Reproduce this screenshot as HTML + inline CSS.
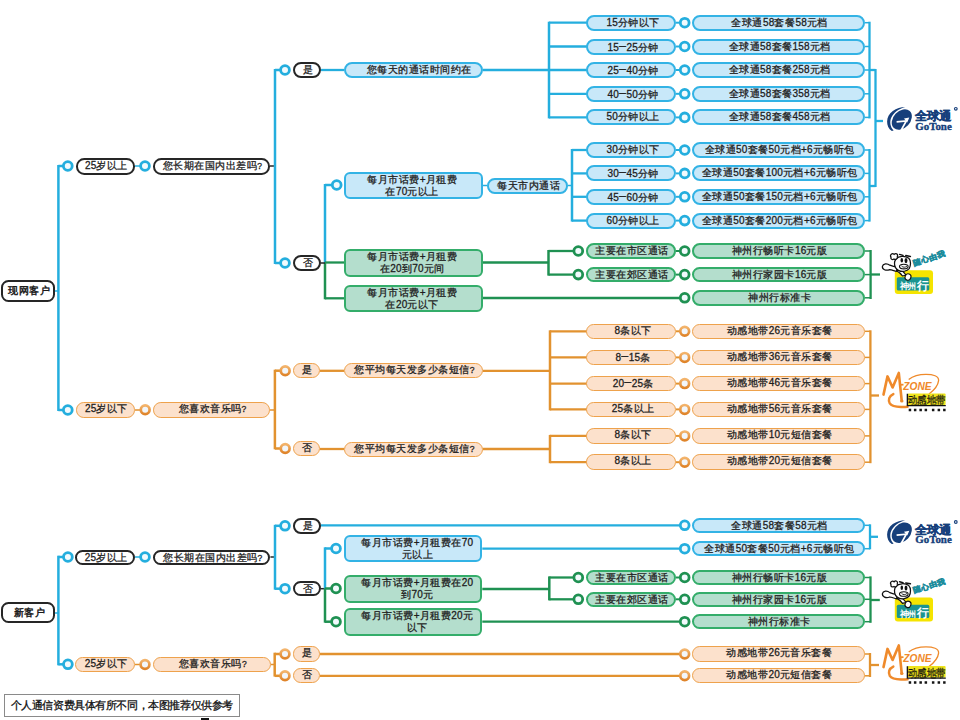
<!DOCTYPE html>
<html><head><meta charset="utf-8"><style>
html,body{margin:0;padding:0;background:#fff;}
body{width:960px;height:720px;position:relative;overflow:hidden;font-family:"Liberation Sans",sans-serif;color:#1a1a1a;}
.b{position:absolute;box-sizing:border-box;border:2px solid;text-align:center;white-space:nowrap;overflow:hidden;letter-spacing:0.5px;-webkit-text-stroke:0.28px #222;}
.d{font-size:10px;letter-spacing:0.2px;}
.q{font-size:8.5px;}
.dash{font-weight:normal;font-size:12.5px;position:relative;top:-1px;}
.disc{position:absolute;left:4px;top:693.5px;width:235.5px;height:23px;box-sizing:border-box;border:1px solid #8a8a8a;font-size:11px;letter-spacing:-0.42px;-webkit-text-stroke:0.3px #111;color:#111;line-height:21px;text-align:center;white-space:nowrap;background:#fff;}
svg{position:absolute;left:0;top:0;}
</style></head><body>
<svg width="960" height="720" viewBox="0 0 960 720">
<defs><linearGradient id="og" x1="0" y1="0" x2="0" y2="1"><stop offset="0" stop-color="#f3b46c"/><stop offset="1" stop-color="#df842a"/></linearGradient></defs>
<line x1="55" y1="291" x2="58.4" y2="291" stroke="#24aede" stroke-width="1.5"/><line x1="58.4" y1="165" x2="58.4" y2="411" stroke="#24aede" stroke-width="2.5"/><line x1="58.4" y1="166" x2="64" y2="166" stroke="#24aede" stroke-width="2.5"/><circle cx="67.8" cy="166" r="4.4" fill="#f2fafd" stroke="#24aede" stroke-width="2.8"/><line x1="58.4" y1="410" x2="64" y2="410" stroke="#24aede" stroke-width="2.5"/><circle cx="67.8" cy="410" r="4.4" fill="#f2fafd" stroke="#24aede" stroke-width="2.8"/><line x1="135" y1="166" x2="141" y2="166" stroke="#24aede" stroke-width="1.5"/><circle cx="145" cy="166" r="4.4" fill="#f2fafd" stroke="#24aede" stroke-width="2.8"/><line x1="270" y1="166" x2="275" y2="166" stroke="#262626" stroke-width="1.5"/><line x1="275" y1="69" x2="275" y2="264" stroke="#24aede" stroke-width="2.5"/><line x1="275" y1="70" x2="281" y2="70" stroke="#24aede" stroke-width="2.5"/><circle cx="285" cy="70" r="4.4" fill="#f2fafd" stroke="#24aede" stroke-width="2.8"/><line x1="275" y1="263" x2="281" y2="263" stroke="#24aede" stroke-width="2.5"/><circle cx="285" cy="263" r="4.4" fill="#f2fafd" stroke="#24aede" stroke-width="2.8"/><line x1="321" y1="70" x2="344" y2="70" stroke="#24aede" stroke-width="2.3"/><line x1="483" y1="70" x2="549" y2="70" stroke="#24aede" stroke-width="2.3"/><line x1="549" y1="21.7" x2="549" y2="118.4" stroke="#24aede" stroke-width="2.5"/><line x1="549" y1="22.7" x2="587" y2="22.7" stroke="#24aede" stroke-width="2.3"/><line x1="676" y1="22.7" x2="681" y2="22.7" stroke="#24aede" stroke-width="2"/><circle cx="684.7" cy="22.7" r="4.4" fill="#f2fafd" stroke="#24aede" stroke-width="2.8"/><line x1="865" y1="22.7" x2="869.5" y2="22.7" stroke="#24aede" stroke-width="1.5"/><line x1="549" y1="46.5" x2="587" y2="46.5" stroke="#24aede" stroke-width="2.3"/><line x1="676" y1="46.5" x2="681" y2="46.5" stroke="#24aede" stroke-width="2"/><circle cx="684.7" cy="46.5" r="4.4" fill="#f2fafd" stroke="#24aede" stroke-width="2.8"/><line x1="865" y1="46.5" x2="869.5" y2="46.5" stroke="#24aede" stroke-width="1.5"/><line x1="549" y1="70" x2="587" y2="70" stroke="#24aede" stroke-width="2.3"/><line x1="676" y1="70" x2="681" y2="70" stroke="#24aede" stroke-width="2"/><circle cx="684.7" cy="70" r="4.4" fill="#f2fafd" stroke="#24aede" stroke-width="2.8"/><line x1="865" y1="70" x2="869.5" y2="70" stroke="#24aede" stroke-width="1.5"/><line x1="549" y1="93.8" x2="587" y2="93.8" stroke="#24aede" stroke-width="2.3"/><line x1="676" y1="93.8" x2="681" y2="93.8" stroke="#24aede" stroke-width="2"/><circle cx="684.7" cy="93.8" r="4.4" fill="#f2fafd" stroke="#24aede" stroke-width="2.8"/><line x1="865" y1="93.8" x2="869.5" y2="93.8" stroke="#24aede" stroke-width="1.5"/><line x1="549" y1="117.4" x2="587" y2="117.4" stroke="#24aede" stroke-width="2.3"/><line x1="676" y1="117.4" x2="681" y2="117.4" stroke="#24aede" stroke-width="2"/><circle cx="684.7" cy="117.4" r="4.4" fill="#f2fafd" stroke="#24aede" stroke-width="2.8"/><line x1="865" y1="117.4" x2="869.5" y2="117.4" stroke="#24aede" stroke-width="1.5"/><line x1="869.5" y1="21.7" x2="869.5" y2="118.4" stroke="#24aede" stroke-width="2.3"/><line x1="869.5" y1="70" x2="875.5" y2="70" stroke="#24aede" stroke-width="2.3"/><line x1="875.5" y1="69" x2="875.5" y2="187" stroke="#24aede" stroke-width="2.3"/><line x1="875.5" y1="121" x2="883" y2="121" stroke="#24aede" stroke-width="2.3"/><line x1="325" y1="184" x2="325" y2="263" stroke="#24aede" stroke-width="2.5"/><line x1="325" y1="263" x2="325" y2="299.3" stroke="#1f9152" stroke-width="2.5"/><line x1="321" y1="263" x2="325" y2="263" stroke="#262626" stroke-width="1.5"/><line x1="325" y1="185" x2="333" y2="185" stroke="#24aede" stroke-width="2.5"/><circle cx="336.7" cy="185" r="4.4" fill="#f2fafd" stroke="#24aede" stroke-width="2.8"/><line x1="483" y1="185.5" x2="487" y2="185.5" stroke="#24aede" stroke-width="1.5"/><line x1="568" y1="185.5" x2="572" y2="185.5" stroke="#24aede" stroke-width="1.5"/><line x1="572" y1="149" x2="572" y2="221.6" stroke="#24aede" stroke-width="2.5"/><line x1="572" y1="150" x2="587" y2="150" stroke="#24aede" stroke-width="2.3"/><line x1="676" y1="150" x2="681" y2="150" stroke="#24aede" stroke-width="2"/><circle cx="684.7" cy="150" r="4.4" fill="#f2fafd" stroke="#24aede" stroke-width="2.8"/><line x1="865" y1="150" x2="869.5" y2="150" stroke="#24aede" stroke-width="1.5"/><line x1="572" y1="173.4" x2="587" y2="173.4" stroke="#24aede" stroke-width="2.3"/><line x1="676" y1="173.4" x2="681" y2="173.4" stroke="#24aede" stroke-width="2"/><circle cx="684.7" cy="173.4" r="4.4" fill="#f2fafd" stroke="#24aede" stroke-width="2.8"/><line x1="865" y1="173.4" x2="869.5" y2="173.4" stroke="#24aede" stroke-width="1.5"/><line x1="572" y1="196.8" x2="587" y2="196.8" stroke="#24aede" stroke-width="2.3"/><line x1="676" y1="196.8" x2="681" y2="196.8" stroke="#24aede" stroke-width="2"/><circle cx="684.7" cy="196.8" r="4.4" fill="#f2fafd" stroke="#24aede" stroke-width="2.8"/><line x1="865" y1="196.8" x2="869.5" y2="196.8" stroke="#24aede" stroke-width="1.5"/><line x1="572" y1="220.6" x2="587" y2="220.6" stroke="#24aede" stroke-width="2.3"/><line x1="676" y1="220.6" x2="681" y2="220.6" stroke="#24aede" stroke-width="2"/><circle cx="684.7" cy="220.6" r="4.4" fill="#f2fafd" stroke="#24aede" stroke-width="2.8"/><line x1="865" y1="220.6" x2="869.5" y2="220.6" stroke="#24aede" stroke-width="1.5"/><line x1="869.5" y1="149" x2="869.5" y2="221.6" stroke="#24aede" stroke-width="2.3"/><line x1="869.5" y1="186" x2="875.5" y2="186" stroke="#24aede" stroke-width="2.3"/><line x1="325" y1="262.5" x2="344" y2="262.5" stroke="#1f9152" stroke-width="2.3"/><line x1="483" y1="262.5" x2="548.5" y2="262.5" stroke="#1f9152" stroke-width="2.3"/><line x1="548.5" y1="250" x2="548.5" y2="275.6" stroke="#1f9152" stroke-width="2.5"/><line x1="548.5" y1="251" x2="575" y2="251" stroke="#1f9152" stroke-width="2.3"/><circle cx="578.3" cy="251" r="4.4" fill="#f2fafd" stroke="#1f9152" stroke-width="2.8"/><line x1="676" y1="251" x2="681" y2="251" stroke="#1f9152" stroke-width="2"/><circle cx="684.7" cy="251" r="4.4" fill="#f2fafd" stroke="#1f9152" stroke-width="2.8"/><line x1="865" y1="251" x2="870.6" y2="251" stroke="#1f9152" stroke-width="1.5"/><line x1="548.5" y1="274.6" x2="575" y2="274.6" stroke="#1f9152" stroke-width="2.3"/><circle cx="578.3" cy="274.6" r="4.4" fill="#f2fafd" stroke="#1f9152" stroke-width="2.8"/><line x1="676" y1="274.6" x2="681" y2="274.6" stroke="#1f9152" stroke-width="2"/><circle cx="684.7" cy="274.6" r="4.4" fill="#f2fafd" stroke="#1f9152" stroke-width="2.8"/><line x1="865" y1="274.6" x2="870.6" y2="274.6" stroke="#1f9152" stroke-width="1.5"/><line x1="325" y1="298.3" x2="344" y2="298.3" stroke="#1f9152" stroke-width="2.3"/><line x1="483" y1="298" x2="681" y2="298" stroke="#1f9152" stroke-width="2.3"/><circle cx="684.7" cy="297.8" r="4.4" fill="#f2fafd" stroke="#1f9152" stroke-width="2.8"/><line x1="865" y1="297.8" x2="870.6" y2="297.8" stroke="#1f9152" stroke-width="1.5"/><line x1="870.6" y1="250" x2="870.6" y2="299" stroke="#1f9152" stroke-width="2.3"/><line x1="870.6" y1="274.5" x2="880" y2="274.5" stroke="#1f9152" stroke-width="2.3"/><line x1="135" y1="410" x2="140" y2="410" stroke="#e2922f" stroke-width="1.5"/><circle cx="145.2" cy="409.8" r="4.4" fill="#f2f6fa" stroke="url(#og)" stroke-width="2.7"/><line x1="270" y1="410" x2="274.9" y2="410" stroke="#e2922f" stroke-width="1.5"/><line x1="274.9" y1="369.7" x2="274.9" y2="449.3" stroke="#e2922f" stroke-width="2.5"/><line x1="274.9" y1="370.7" x2="281" y2="370.7" stroke="#e2922f" stroke-width="2.5"/><circle cx="285.2" cy="370.7" r="4.4" fill="#f2f6fa" stroke="url(#og)" stroke-width="2.7"/><line x1="274.9" y1="448.5" x2="281" y2="448.5" stroke="#e2922f" stroke-width="2.5"/><circle cx="285.2" cy="448.5" r="4.4" fill="#f2f6fa" stroke="url(#og)" stroke-width="2.7"/><line x1="320" y1="370.8" x2="344" y2="370.8" stroke="#e2922f" stroke-width="2.3"/><line x1="320" y1="449" x2="344" y2="449" stroke="#e2922f" stroke-width="2.3"/><line x1="483" y1="370.8" x2="550" y2="370.8" stroke="#e2922f" stroke-width="2.3"/><line x1="483" y1="449" x2="550" y2="449" stroke="#e2922f" stroke-width="2.3"/><line x1="550" y1="330.3" x2="550" y2="410.4" stroke="#e2922f" stroke-width="2.5"/><line x1="550" y1="434.9" x2="550" y2="463.2" stroke="#e2922f" stroke-width="2.5"/><line x1="550" y1="331.3" x2="587" y2="331.3" stroke="#e2922f" stroke-width="2.3"/><line x1="676" y1="331.3" x2="680" y2="331.3" stroke="#e2922f" stroke-width="2"/><circle cx="684.7" cy="331.3" r="4.4" fill="#f2f6fa" stroke="url(#og)" stroke-width="2.7"/><line x1="865" y1="331.3" x2="870.4" y2="331.3" stroke="#e2922f" stroke-width="1.5"/><line x1="550" y1="357.4" x2="587" y2="357.4" stroke="#e2922f" stroke-width="2.3"/><line x1="676" y1="357.4" x2="680" y2="357.4" stroke="#e2922f" stroke-width="2"/><circle cx="684.7" cy="357.4" r="4.4" fill="#f2f6fa" stroke="url(#og)" stroke-width="2.7"/><line x1="865" y1="357.4" x2="870.4" y2="357.4" stroke="#e2922f" stroke-width="1.5"/><line x1="550" y1="383.6" x2="587" y2="383.6" stroke="#e2922f" stroke-width="2.3"/><line x1="676" y1="383.6" x2="680" y2="383.6" stroke="#e2922f" stroke-width="2"/><circle cx="684.7" cy="383.6" r="4.4" fill="#f2f6fa" stroke="url(#og)" stroke-width="2.7"/><line x1="865" y1="383.6" x2="870.4" y2="383.6" stroke="#e2922f" stroke-width="1.5"/><line x1="550" y1="409.4" x2="587" y2="409.4" stroke="#e2922f" stroke-width="2.3"/><line x1="676" y1="409.4" x2="680" y2="409.4" stroke="#e2922f" stroke-width="2"/><circle cx="684.7" cy="409.4" r="4.4" fill="#f2f6fa" stroke="url(#og)" stroke-width="2.7"/><line x1="865" y1="409.4" x2="870.4" y2="409.4" stroke="#e2922f" stroke-width="1.5"/><line x1="550" y1="435.9" x2="587" y2="435.9" stroke="#e2922f" stroke-width="2.3"/><line x1="676" y1="435.9" x2="680" y2="435.9" stroke="#e2922f" stroke-width="2"/><circle cx="684.7" cy="435.9" r="4.4" fill="#f2f6fa" stroke="url(#og)" stroke-width="2.7"/><line x1="865" y1="435.9" x2="870.4" y2="435.9" stroke="#e2922f" stroke-width="1.5"/><line x1="550" y1="462.2" x2="587" y2="462.2" stroke="#e2922f" stroke-width="2.3"/><line x1="676" y1="462.2" x2="680" y2="462.2" stroke="#e2922f" stroke-width="2"/><circle cx="684.7" cy="462.2" r="4.4" fill="#f2f6fa" stroke="url(#og)" stroke-width="2.7"/><line x1="865" y1="462.2" x2="870.4" y2="462.2" stroke="#e2922f" stroke-width="1.5"/><line x1="870.4" y1="330.3" x2="870.4" y2="463.2" stroke="#e2922f" stroke-width="2.3"/><line x1="870.4" y1="395.5" x2="879" y2="395.5" stroke="#e2922f" stroke-width="2.3"/><line x1="55" y1="613" x2="58.4" y2="613" stroke="#24aede" stroke-width="1.5"/><line x1="58.4" y1="555.7" x2="58.4" y2="665.3" stroke="#24aede" stroke-width="2.5"/><line x1="58.4" y1="557" x2="64" y2="557" stroke="#24aede" stroke-width="2.5"/><circle cx="67.9" cy="557" r="4.4" fill="#f2fafd" stroke="#24aede" stroke-width="2.8"/><line x1="58.4" y1="664.3" x2="64" y2="664.3" stroke="#24aede" stroke-width="2.5"/><circle cx="67.9" cy="664.3" r="4.4" fill="#f2fafd" stroke="#24aede" stroke-width="2.8"/><line x1="135" y1="557" x2="141" y2="557" stroke="#24aede" stroke-width="1.5"/><circle cx="145" cy="557" r="4.4" fill="#f2fafd" stroke="#24aede" stroke-width="2.8"/><line x1="270.4" y1="557" x2="275" y2="557" stroke="#262626" stroke-width="1.5"/><line x1="275" y1="524.8" x2="275" y2="589.7" stroke="#24aede" stroke-width="2.5"/><line x1="275" y1="525.8" x2="281" y2="525.8" stroke="#24aede" stroke-width="2.5"/><circle cx="285" cy="525.8" r="4.4" fill="#f2fafd" stroke="#24aede" stroke-width="2.8"/><line x1="275" y1="588.7" x2="281" y2="588.7" stroke="#24aede" stroke-width="2.5"/><circle cx="285" cy="588.7" r="4.4" fill="#f2fafd" stroke="#24aede" stroke-width="2.8"/><line x1="321" y1="525.4" x2="681" y2="525.4" stroke="#24aede" stroke-width="2.3"/><circle cx="684.7" cy="525.3" r="4.4" fill="#f2fafd" stroke="#24aede" stroke-width="2.8"/><line x1="321" y1="588.7" x2="325" y2="588.7" stroke="#262626" stroke-width="1.5"/><line x1="325" y1="547.3" x2="325" y2="588.7" stroke="#24aede" stroke-width="2.5"/><line x1="325" y1="588.7" x2="325" y2="622.7" stroke="#1f9152" stroke-width="2.5"/><line x1="325" y1="548.5" x2="333" y2="548.5" stroke="#24aede" stroke-width="2.5"/><circle cx="336" cy="548.5" r="4.4" fill="#f2fafd" stroke="#24aede" stroke-width="2.8"/><line x1="482.3" y1="548.7" x2="681" y2="548.7" stroke="#24aede" stroke-width="2.3"/><circle cx="684.7" cy="548.7" r="4.4" fill="#f2fafd" stroke="#24aede" stroke-width="2.8"/><line x1="870" y1="524.3" x2="870" y2="549.3" stroke="#24aede" stroke-width="2.3"/><line x1="864.5" y1="525.3" x2="870" y2="525.3" stroke="#24aede" stroke-width="1.5"/><line x1="864.5" y1="548.7" x2="870" y2="548.7" stroke="#24aede" stroke-width="1.5"/><line x1="870" y1="536.8" x2="878" y2="536.8" stroke="#24aede" stroke-width="2.3"/><line x1="325" y1="588.5" x2="333" y2="588.5" stroke="#1f9152" stroke-width="2.5"/><circle cx="336" cy="588.5" r="4.4" fill="#f2fafd" stroke="#1f9152" stroke-width="2.8"/><line x1="482.3" y1="589" x2="549.3" y2="589" stroke="#1f9152" stroke-width="2.3"/><line x1="549.3" y1="576.4" x2="549.3" y2="600.4" stroke="#1f9152" stroke-width="2.5"/><line x1="549.3" y1="577.5" x2="575" y2="577.5" stroke="#1f9152" stroke-width="2.3"/><circle cx="578.3" cy="577.5" r="4.4" fill="#f2fafd" stroke="#1f9152" stroke-width="2.8"/><line x1="676" y1="577.5" x2="681" y2="577.5" stroke="#1f9152" stroke-width="2"/><circle cx="684.7" cy="577.5" r="4.4" fill="#f2fafd" stroke="#1f9152" stroke-width="2.8"/><line x1="864.5" y1="577.5" x2="870.5" y2="577.5" stroke="#1f9152" stroke-width="1.5"/><line x1="549.3" y1="599.3" x2="575" y2="599.3" stroke="#1f9152" stroke-width="2.3"/><circle cx="578.3" cy="599.3" r="4.4" fill="#f2fafd" stroke="#1f9152" stroke-width="2.8"/><line x1="676" y1="599.3" x2="681" y2="599.3" stroke="#1f9152" stroke-width="2"/><circle cx="684.7" cy="599.3" r="4.4" fill="#f2fafd" stroke="#1f9152" stroke-width="2.8"/><line x1="864.5" y1="599.3" x2="870.5" y2="599.3" stroke="#1f9152" stroke-width="1.5"/><line x1="325" y1="621.7" x2="333" y2="621.7" stroke="#1f9152" stroke-width="2.5"/><circle cx="336" cy="621.7" r="4.4" fill="#f2fafd" stroke="#1f9152" stroke-width="2.8"/><line x1="482.3" y1="621.7" x2="681" y2="621.7" stroke="#1f9152" stroke-width="2.3"/><circle cx="684.7" cy="621.7" r="4.4" fill="#f2fafd" stroke="#1f9152" stroke-width="2.8"/><line x1="864.5" y1="621.7" x2="870.5" y2="621.7" stroke="#1f9152" stroke-width="1.5"/><line x1="870.5" y1="576.4" x2="870.5" y2="622.8" stroke="#1f9152" stroke-width="2.3"/><line x1="870.5" y1="600" x2="879.8" y2="600" stroke="#1f9152" stroke-width="2.3"/><line x1="135" y1="664.5" x2="140" y2="664.5" stroke="#e2922f" stroke-width="1.5"/><circle cx="145" cy="664.5" r="4.4" fill="#f2f6fa" stroke="url(#og)" stroke-width="2.7"/><line x1="270.8" y1="664.5" x2="274.7" y2="664.5" stroke="#e2922f" stroke-width="1.5"/><line x1="274.7" y1="652.7" x2="274.7" y2="676.6" stroke="#e2922f" stroke-width="2.5"/><line x1="274.7" y1="654" x2="281" y2="654" stroke="#e2922f" stroke-width="2.5"/><circle cx="285" cy="654" r="4.4" fill="#f2f6fa" stroke="url(#og)" stroke-width="2.7"/><line x1="320" y1="654" x2="680" y2="654" stroke="#e2922f" stroke-width="2.3"/><circle cx="684.7" cy="654" r="4.4" fill="#f2f6fa" stroke="url(#og)" stroke-width="2.7"/><line x1="864.5" y1="654" x2="870" y2="654" stroke="#e2922f" stroke-width="1.5"/><line x1="274.7" y1="675.8" x2="281" y2="675.8" stroke="#e2922f" stroke-width="2.5"/><circle cx="285" cy="675.8" r="4.4" fill="#f2f6fa" stroke="url(#og)" stroke-width="2.7"/><line x1="320" y1="675.8" x2="680" y2="675.8" stroke="#e2922f" stroke-width="2.3"/><circle cx="684.7" cy="675.8" r="4.4" fill="#f2f6fa" stroke="url(#og)" stroke-width="2.7"/><line x1="864.5" y1="675.8" x2="870" y2="675.8" stroke="#e2922f" stroke-width="1.5"/><line x1="870" y1="653" x2="870" y2="677" stroke="#e2922f" stroke-width="2.3"/><line x1="870" y1="665" x2="879" y2="665" stroke="#e2922f" stroke-width="2.3"/>
</svg>
<div class="b" style="left:1px;top:280.3px;width:54.3px;height:21.5px;border-width:2px;border-color:#262626;background:#fff;border-radius:7.5px;font-size:10px;line-height:17.5px;-webkit-text-stroke:0.45px #1a1a1a;padding-left:2.4px;">现网客户</div><div class="b" style="left:75.5px;top:158px;width:59.5px;height:16.5px;border-width:2px;border-color:#262626;background:#fff;border-radius:8.25px;font-size:10px;line-height:12.90px;padding-left:2.4px;"><span class="d">25</span>岁以上</div><div class="b" style="left:153px;top:158px;width:117px;height:16.5px;border-width:2px;border-color:#262626;background:#fff;border-radius:8.25px;font-size:10px;line-height:12.90px;padding-left:2.4px;">您长期在国内出差吗<span class="q">?</span></div><div class="b" style="left:293px;top:62px;width:28px;height:16px;border-width:2px;border-color:#262626;background:#fff;border-radius:8.0px;font-size:10px;line-height:12.40px;padding-left:2.4px;">是</div><div class="b" style="left:293px;top:255px;width:28px;height:16px;border-width:2px;border-color:#262626;background:#fff;border-radius:8.0px;font-size:10px;line-height:12.40px;padding-left:2.4px;">否</div><div class="b" style="left:344px;top:62px;width:139px;height:16px;border-width:2px;border-color:#33b3e5;background:#c8e8f9;border-radius:8.0px;font-size:10px;line-height:12.40px;padding-left:11.6px;">您每天的通话时间约在</div><div class="b" style="left:586px;top:14.7px;width:90px;height:16.0px;border-width:2px;border-color:#33b3e5;background:#c8e8f9;border-radius:8.0px;font-size:10px;line-height:12.40px;padding-left:4.4px;"><span class="d">15</span>分钟以下</div><div class="b" style="left:692px;top:14.7px;width:173px;height:16.0px;border-width:2px;border-color:#33b3e5;background:#c8e8f9;border-radius:8.0px;font-size:10px;line-height:12.40px;padding-left:2.4px;">全球通<span class="d">58</span>套餐<span class="d">58</span>元档</div><div class="b" style="left:586px;top:38.5px;width:90px;height:16.0px;border-width:2px;border-color:#33b3e5;background:#c8e8f9;border-radius:8.0px;font-size:10px;line-height:12.40px;padding-left:4.4px;"><span class="d">15</span><span class="dash">–</span><span class="d">25</span>分钟</div><div class="b" style="left:692px;top:38.5px;width:173px;height:16.0px;border-width:2px;border-color:#33b3e5;background:#c8e8f9;border-radius:8.0px;font-size:10px;line-height:12.40px;padding-left:2.4px;">全球通<span class="d">58</span>套餐<span class="d">158</span>元档</div><div class="b" style="left:586px;top:62px;width:90px;height:16px;border-width:2px;border-color:#33b3e5;background:#c8e8f9;border-radius:8.0px;font-size:10px;line-height:12.40px;padding-left:4.4px;"><span class="d">25</span><span class="dash">–</span><span class="d">40</span>分钟</div><div class="b" style="left:692px;top:62px;width:173px;height:16px;border-width:2px;border-color:#33b3e5;background:#c8e8f9;border-radius:8.0px;font-size:10px;line-height:12.40px;padding-left:2.4px;">全球通<span class="d">58</span>套餐<span class="d">258</span>元档</div><div class="b" style="left:586px;top:85.8px;width:90px;height:16.0px;border-width:2px;border-color:#33b3e5;background:#c8e8f9;border-radius:8.0px;font-size:10px;line-height:12.40px;padding-left:4.4px;"><span class="d">40</span><span class="dash">–</span><span class="d">50</span>分钟</div><div class="b" style="left:692px;top:85.8px;width:173px;height:16.0px;border-width:2px;border-color:#33b3e5;background:#c8e8f9;border-radius:8.0px;font-size:10px;line-height:12.40px;padding-left:2.4px;">全球通<span class="d">58</span>套餐<span class="d">358</span>元档</div><div class="b" style="left:586px;top:109.4px;width:90px;height:16.0px;border-width:2px;border-color:#33b3e5;background:#c8e8f9;border-radius:8.0px;font-size:10px;line-height:12.40px;padding-left:4.4px;"><span class="d">50</span>分钟以上</div><div class="b" style="left:692px;top:109.4px;width:173px;height:16.0px;border-width:2px;border-color:#33b3e5;background:#c8e8f9;border-radius:8.0px;font-size:10px;line-height:12.40px;padding-left:2.4px;">全球通<span class="d">58</span>套餐<span class="d">458</span>元档</div><div class="b" style="left:344px;top:171.5px;width:139px;height:27.80000000000001px;border-width:2px;border-color:#33b3e5;background:#c8e8f9;border-radius:6px;font-size:10px;line-height:12px;padding-right:2.6px;">每月市话费<span class="d">+</span>月租费<br>在<span class="d">70</span>元以上</div><div class="b" style="left:487px;top:178px;width:81px;height:15.5px;border-width:2px;border-color:#33b3e5;background:#c8e8f9;border-radius:7.75px;font-size:10px;line-height:11.90px;padding-left:2.4px;">每天市内通话</div><div class="b" style="left:586px;top:142px;width:90px;height:16px;border-width:2px;border-color:#33b3e5;background:#c8e8f9;border-radius:8.0px;font-size:10px;line-height:12.40px;padding-left:4.4px;"><span class="d">30</span>分钟以下</div><div class="b" style="left:692px;top:142px;width:173px;height:16px;border-width:2px;border-color:#33b3e5;background:#c8e8f9;border-radius:8.0px;font-size:10px;line-height:12.40px;padding-left:2.4px;">全球通<span class="d">50</span>套餐<span class="d">50</span>元档<span class="d">+6</span>元畅听包</div><div class="b" style="left:586px;top:165.4px;width:90px;height:16.0px;border-width:2px;border-color:#33b3e5;background:#c8e8f9;border-radius:8.0px;font-size:10px;line-height:12.40px;padding-left:4.4px;"><span class="d">30</span><span class="dash">–</span><span class="d">45</span>分钟</div><div class="b" style="left:692px;top:165.4px;width:173px;height:16.0px;border-width:2px;border-color:#33b3e5;background:#c8e8f9;border-radius:8.0px;font-size:10px;line-height:12.40px;padding-left:2.4px;">全球通<span class="d">50</span>套餐<span class="d">100</span>元档<span class="d">+6</span>元畅听包</div><div class="b" style="left:586px;top:188.8px;width:90px;height:16.0px;border-width:2px;border-color:#33b3e5;background:#c8e8f9;border-radius:8.0px;font-size:10px;line-height:12.40px;padding-left:4.4px;"><span class="d">45</span><span class="dash">–</span><span class="d">60</span>分钟</div><div class="b" style="left:692px;top:188.8px;width:173px;height:16.0px;border-width:2px;border-color:#33b3e5;background:#c8e8f9;border-radius:8.0px;font-size:10px;line-height:12.40px;padding-left:2.4px;">全球通<span class="d">50</span>套餐<span class="d">150</span>元档<span class="d">+6</span>元畅听包</div><div class="b" style="left:586px;top:212.6px;width:90px;height:16.0px;border-width:2px;border-color:#33b3e5;background:#c8e8f9;border-radius:8.0px;font-size:10px;line-height:12.40px;padding-left:4.4px;"><span class="d">60</span>分钟以上</div><div class="b" style="left:692px;top:212.6px;width:173px;height:16.0px;border-width:2px;border-color:#33b3e5;background:#c8e8f9;border-radius:8.0px;font-size:10px;line-height:12.40px;padding-left:2.4px;">全球通<span class="d">50</span>套餐<span class="d">200</span>元档<span class="d">+6</span>元畅听包</div><div class="b" style="left:344px;top:248.5px;width:139px;height:28.19999999999999px;border-width:2px;border-color:#34ad6a;background:#b4decd;border-radius:6px;font-size:10px;line-height:12px;padding-right:2.6px;">每月市话费<span class="d">+</span>月租费<br>在<span class="d">20</span>到<span class="d">70</span>元间</div><div class="b" style="left:586px;top:243.2px;width:90px;height:15.600000000000023px;border-width:2px;border-color:#34ad6a;background:#b4decd;border-radius:7.800000000000011px;font-size:10px;line-height:12.00px;padding-left:2.4px;">主要在市区通话</div><div class="b" style="left:692px;top:243.2px;width:173px;height:15.600000000000023px;border-width:2px;border-color:#34ad6a;background:#b4decd;border-radius:7.800000000000011px;font-size:10px;line-height:12.00px;padding-left:2.4px;">神州行畅听卡<span class="d">16</span>元版</div><div class="b" style="left:586px;top:266.8px;width:90px;height:15.600000000000023px;border-width:2px;border-color:#34ad6a;background:#b4decd;border-radius:7.800000000000011px;font-size:10px;line-height:12.00px;padding-left:2.4px;">主要在郊区通话</div><div class="b" style="left:692px;top:266.8px;width:173px;height:15.600000000000023px;border-width:2px;border-color:#34ad6a;background:#b4decd;border-radius:7.800000000000011px;font-size:10px;line-height:12.00px;padding-left:2.4px;">神州行家园卡<span class="d">16</span>元版</div><div class="b" style="left:344px;top:285px;width:139px;height:26.69999999999999px;border-width:2px;border-color:#34ad6a;background:#b4decd;border-radius:6px;font-size:10px;line-height:12px;padding-right:2.6px;">每月市话费<span class="d">+</span>月租费<br>在<span class="d">20</span>元以下</div><div class="b" style="left:692px;top:290.0px;width:173px;height:15.600000000000023px;border-width:2px;border-color:#34ad6a;background:#b4decd;border-radius:7.800000000000011px;font-size:10px;line-height:12.00px;padding-left:2.4px;">神州行标准卡</div><div class="b" style="left:75.5px;top:402px;width:59.5px;height:15.5px;border-width:1.7px;border-color:#eea24c;background:#fce1cc;border-radius:7.75px;font-size:10px;line-height:11.90px;padding-left:2.4px;"><span class="d">25</span>岁以下</div><div class="b" style="left:153px;top:402px;width:117px;height:15.699999999999989px;border-width:1.7px;border-color:#eea24c;background:#fce1cc;border-radius:7.849999999999994px;font-size:10px;line-height:12.10px;padding-left:2.4px;">您喜欢音乐吗<span class="q">?</span></div><div class="b" style="left:293px;top:363.0px;width:27px;height:15.399999999999977px;border-width:1.7px;border-color:#eea24c;background:#fce1cc;border-radius:7.699999999999989px;font-size:10px;line-height:11.80px;padding-left:2.4px;">是</div><div class="b" style="left:293px;top:440.8px;width:27px;height:15.399999999999977px;border-width:1.7px;border-color:#eea24c;background:#fce1cc;border-radius:7.699999999999989px;font-size:10px;line-height:11.80px;padding-left:2.4px;">否</div><div class="b" style="left:344px;top:363.3px;width:139px;height:15.199999999999989px;border-width:1.7px;border-color:#eea24c;background:#fce1cc;border-radius:7.599999999999994px;font-size:10px;line-height:11.60px;padding-left:2.4px;">您平均每天发多少条短信<span class="q">?</span></div><div class="b" style="left:344px;top:441.5px;width:139px;height:15.300000000000011px;border-width:1.7px;border-color:#eea24c;background:#fce1cc;border-radius:7.650000000000006px;font-size:10px;line-height:11.70px;padding-left:2.4px;">您平均每天发多少条短信<span class="q">?</span></div><div class="b" style="left:586px;top:323.5px;width:90px;height:15.600000000000023px;border-width:1.7px;border-color:#eea24c;background:#fce1cc;border-radius:7.800000000000011px;font-size:10px;line-height:12.00px;padding-left:4.4px;"><span class="d">8</span>条以下</div><div class="b" style="left:692px;top:323.5px;width:173px;height:15.600000000000023px;border-width:1.7px;border-color:#eea24c;background:#fce1cc;border-radius:7.800000000000011px;font-size:10px;line-height:12.00px;padding-left:2.4px;">动感地带<span class="d">26</span>元音乐套餐</div><div class="b" style="left:586px;top:349.59999999999997px;width:90px;height:15.600000000000023px;border-width:1.7px;border-color:#eea24c;background:#fce1cc;border-radius:7.800000000000011px;font-size:10px;line-height:12.00px;padding-left:4.4px;"><span class="d">8</span><span class="dash">–</span><span class="d">15</span>条</div><div class="b" style="left:692px;top:349.59999999999997px;width:173px;height:15.600000000000023px;border-width:1.7px;border-color:#eea24c;background:#fce1cc;border-radius:7.800000000000011px;font-size:10px;line-height:12.00px;padding-left:2.4px;">动感地带<span class="d">36</span>元音乐套餐</div><div class="b" style="left:586px;top:375.8px;width:90px;height:15.600000000000023px;border-width:1.7px;border-color:#eea24c;background:#fce1cc;border-radius:7.800000000000011px;font-size:10px;line-height:12.00px;padding-left:4.4px;"><span class="d">20</span><span class="dash">–</span><span class="d">25</span>条</div><div class="b" style="left:692px;top:375.8px;width:173px;height:15.600000000000023px;border-width:1.7px;border-color:#eea24c;background:#fce1cc;border-radius:7.800000000000011px;font-size:10px;line-height:12.00px;padding-left:2.4px;">动感地带<span class="d">46</span>元音乐套餐</div><div class="b" style="left:586px;top:401.59999999999997px;width:90px;height:15.600000000000023px;border-width:1.7px;border-color:#eea24c;background:#fce1cc;border-radius:7.800000000000011px;font-size:10px;line-height:12.00px;padding-left:4.4px;"><span class="d">25</span>条以上</div><div class="b" style="left:692px;top:401.59999999999997px;width:173px;height:15.600000000000023px;border-width:1.7px;border-color:#eea24c;background:#fce1cc;border-radius:7.800000000000011px;font-size:10px;line-height:12.00px;padding-left:2.4px;">动感地带<span class="d">56</span>元音乐套餐</div><div class="b" style="left:586px;top:428.09999999999997px;width:90px;height:15.600000000000023px;border-width:1.7px;border-color:#eea24c;background:#fce1cc;border-radius:7.800000000000011px;font-size:10px;line-height:12.00px;padding-left:4.4px;"><span class="d">8</span>条以下</div><div class="b" style="left:692px;top:428.09999999999997px;width:173px;height:15.600000000000023px;border-width:1.7px;border-color:#eea24c;background:#fce1cc;border-radius:7.800000000000011px;font-size:10px;line-height:12.00px;padding-left:2.4px;">动感地带<span class="d">10</span>元短信套餐</div><div class="b" style="left:586px;top:454.4px;width:90px;height:15.600000000000023px;border-width:1.7px;border-color:#eea24c;background:#fce1cc;border-radius:7.800000000000011px;font-size:10px;line-height:12.00px;padding-left:4.4px;"><span class="d">8</span>条以上</div><div class="b" style="left:692px;top:454.4px;width:173px;height:15.600000000000023px;border-width:1.7px;border-color:#eea24c;background:#fce1cc;border-radius:7.800000000000011px;font-size:10px;line-height:12.00px;padding-left:2.4px;">动感地带<span class="d">20</span>元短信套餐</div><div class="b" style="left:1px;top:602.3px;width:54.3px;height:21.200000000000045px;border-width:2px;border-color:#262626;background:#fff;border-radius:7.5px;font-size:10px;line-height:17.5px;-webkit-text-stroke:0.45px #1a1a1a;padding-left:2.4px;">新客户</div><div class="b" style="left:75px;top:549.5px;width:60px;height:15.299999999999955px;border-width:2px;border-color:#262626;background:#fff;border-radius:7.649999999999977px;font-size:10px;line-height:11.70px;padding-left:2.4px;"><span class="d">25</span>岁以上</div><div class="b" style="left:153px;top:549.5px;width:117.39999999999998px;height:15.299999999999955px;border-width:2px;border-color:#262626;background:#fff;border-radius:7.649999999999977px;font-size:10px;line-height:11.70px;padding-left:2.4px;">您长期在国内出差吗<span class="q">?</span></div><div class="b" style="left:293px;top:518.0px;width:28px;height:15.599999999999909px;border-width:2px;border-color:#262626;background:#fff;border-radius:7.7999999999999545px;font-size:10px;line-height:12.00px;padding-left:2.4px;">是</div><div class="b" style="left:293px;top:580.9000000000001px;width:28px;height:15.599999999999909px;border-width:2px;border-color:#262626;background:#fff;border-radius:7.7999999999999545px;font-size:10px;line-height:12.00px;padding-left:2.4px;">否</div><div class="b" style="left:692px;top:517.5px;width:172.5px;height:15.599999999999909px;border-width:2px;border-color:#33b3e5;background:#c8e8f9;border-radius:7.7999999999999545px;font-size:10px;line-height:12.00px;padding-left:2.4px;">全球通<span class="d">58</span>套餐<span class="d">58</span>元档</div><div class="b" style="left:344px;top:535px;width:138.3px;height:27.299999999999955px;border-width:2px;border-color:#33b3e5;background:#c8e8f9;border-radius:6px;font-size:10px;line-height:12px;padding-left:8.4px;">每月市话费<span class="d">+</span>月租费在<span class="d">70</span><br>元以上</div><div class="b" style="left:692px;top:540.9000000000001px;width:172.5px;height:15.599999999999909px;border-width:2px;border-color:#33b3e5;background:#c8e8f9;border-radius:7.7999999999999545px;font-size:10px;line-height:12.00px;padding-left:2.4px;">全球通<span class="d">50</span>套餐<span class="d">50</span>元档<span class="d">+6</span>元畅听包</div><div class="b" style="left:344px;top:575px;width:138.3px;height:28.299999999999955px;border-width:2px;border-color:#34ad6a;background:#b4decd;border-radius:6px;font-size:10px;line-height:12px;padding-left:8.4px;">每月市话费<span class="d">+</span>月租费在<span class="d">20</span><br>到<span class="d">70</span>元</div><div class="b" style="left:586px;top:569.7px;width:90px;height:15.599999999999909px;border-width:2px;border-color:#34ad6a;background:#b4decd;border-radius:7.7999999999999545px;font-size:10px;line-height:12.00px;padding-left:2.4px;">主要在市区通话</div><div class="b" style="left:692px;top:569.7px;width:172.5px;height:15.599999999999909px;border-width:2px;border-color:#34ad6a;background:#b4decd;border-radius:7.7999999999999545px;font-size:10px;line-height:12.00px;padding-left:2.4px;">神州行畅听卡<span class="d">16</span>元版</div><div class="b" style="left:586px;top:591.5px;width:90px;height:15.599999999999909px;border-width:2px;border-color:#34ad6a;background:#b4decd;border-radius:7.7999999999999545px;font-size:10px;line-height:12.00px;padding-left:2.4px;">主要在郊区通话</div><div class="b" style="left:692px;top:591.5px;width:172.5px;height:15.599999999999909px;border-width:2px;border-color:#34ad6a;background:#b4decd;border-radius:7.7999999999999545px;font-size:10px;line-height:12.00px;padding-left:2.4px;">神州行家园卡<span class="d">16</span>元版</div><div class="b" style="left:344px;top:608.3px;width:138.3px;height:27.700000000000045px;border-width:2px;border-color:#34ad6a;background:#b4decd;border-radius:6px;font-size:10px;line-height:12px;padding-left:8.4px;">每月市话费<span class="d">+</span>月租费<span class="d">20</span>元<br>以下</div><div class="b" style="left:692px;top:613.9000000000001px;width:172.5px;height:15.599999999999909px;border-width:2px;border-color:#34ad6a;background:#b4decd;border-radius:7.7999999999999545px;font-size:10px;line-height:12.00px;padding-left:2.4px;">神州行标准卡</div><div class="b" style="left:75px;top:657px;width:60px;height:15px;border-width:1.7px;border-color:#eea24c;background:#fce1cc;border-radius:7.5px;font-size:10px;line-height:11.40px;padding-left:2.4px;"><span class="d">25</span>岁以下</div><div class="b" style="left:153px;top:657px;width:117.80000000000001px;height:15px;border-width:1.7px;border-color:#eea24c;background:#fce1cc;border-radius:7.5px;font-size:10px;line-height:11.40px;padding-left:2.4px;">您喜欢音乐吗<span class="q">?</span></div><div class="b" style="left:293px;top:646.4px;width:27px;height:15.200000000000045px;border-width:1.7px;border-color:#eea24c;background:#fce1cc;border-radius:7.600000000000023px;font-size:10px;line-height:11.60px;padding-left:2.4px;">是</div><div class="b" style="left:692px;top:646.3px;width:172.5px;height:15.400000000000091px;border-width:1.7px;border-color:#eea24c;background:#fce1cc;border-radius:7.7000000000000455px;font-size:10px;line-height:11.80px;padding-left:2.4px;">动感地带<span class="d">26</span>元音乐套餐</div><div class="b" style="left:293px;top:668.1999999999999px;width:27px;height:15.200000000000045px;border-width:1.7px;border-color:#eea24c;background:#fce1cc;border-radius:7.600000000000023px;font-size:10px;line-height:11.60px;padding-left:2.4px;">否</div><div class="b" style="left:692px;top:668.0999999999999px;width:172.5px;height:15.400000000000091px;border-width:1.7px;border-color:#eea24c;background:#fce1cc;border-radius:7.7000000000000455px;font-size:10px;line-height:11.80px;padding-left:2.4px;">动感地带<span class="d">20</span>元短信套餐</div><div class="disc">个人通信资费具体有所不同，本图推荐仅供参考</div><div style="position:absolute;left:201px;top:718px;width:8px;height:2px;background:#111"></div>
<svg width="960" height="720" viewBox="0 0 960 720" style="pointer-events:none">
<g transform="translate(0,0)">
<path d="M891.8 130.9 C885.6 127 885.2 116 892.8 110.9 C896.5 108.4 901 107.2 905.2 107.1 C899 108.9 893.6 112.6 891.1 118 C889.5 122 890.3 127 893.6 130.5 Z" fill="#163f7b"/>
<ellipse cx="901.8" cy="119.5" rx="11.6" ry="8.5" transform="rotate(-47 901.8 119.5)" fill="#163f7b"/>
<path d="M896.6 121.9 L906.3 121 L901.2 130.2" stroke="#fff" stroke-width="1.7" fill="none" stroke-linejoin="miter"/>
<path d="M904 118.6 L909.3 117.6 L907.2 122.4 Z" fill="#fff"/>
<text x="914.8" y="120.4" font-size="12.4" font-weight="bold" fill="#163f7b" stroke="#163f7b" stroke-width="0.35" textLength="37" lengthAdjust="spacingAndGlyphs">全球通</text>
<text x="915.2" y="130.3" font-size="10.8" font-weight="bold" fill="#163f7b" stroke="#163f7b" stroke-width="0.35" font-family="Liberation Serif, serif" textLength="36.6" lengthAdjust="spacingAndGlyphs">GoTone</text>
<circle cx="955.8" cy="108.8" r="1.9" fill="#163f7b"/><circle cx="955.8" cy="108.8" r="0.8" fill="#fff"/>
</g><g transform="translate(0,0)">
<rect x="894.8" y="270.2" width="38.2" height="23.8" rx="3" fill="#f5e400"/>
<rect x="896.8" y="277.3" width="32.5" height="13.3" rx="1.5" fill="#1b9490"/>
<text x="899.5" y="289.3" font-size="8.6" font-weight="bold" fill="#fff">神</text>
<text x="908.2" y="289.3" font-size="8" font-weight="bold" fill="#fff">州</text>
<text x="916.5" y="290" font-size="11.5" font-weight="bold" fill="#fff">行</text>
<path d="M896 270.5 C899 272 901 273.5 902.5 276 L906 275 C904.5 273 903 271.5 902 270.5 Z" fill="#fff" stroke="#111" stroke-width="1.2" stroke-linejoin="round"/>
<path d="M889.8 265.2 C887.3 263 883 263.3 882.4 266.3 C882 269.4 886 271.2 889.6 269.6 C891.5 269.8 893.5 270.6 896.5 271.4 L897.5 267 C895 266.8 892.2 266.2 889.8 265.2 Z" fill="#fff" stroke="#111" stroke-width="1.25" stroke-linejoin="round"/>
<path d="M896.2 258.8 C898.5 256 905 255.3 908.8 258.2 C911.2 260.6 910.8 265.8 909.2 268.6 C907 271.4 901.8 272.2 898.8 270.6 C896.2 269.4 894.4 266 894.5 263 C894.6 261.4 895.2 259.9 896.2 258.8 Z" fill="#fff" stroke="#111" stroke-width="1.25"/>
<path d="M891 257.2 C889.4 254.6 892.4 252.8 894.1 254.4 C895.6 252.8 898.4 253.8 897.3 256.4 C897.9 258.6 895.6 260.2 894 259.1 C892.4 260.2 890.4 259.2 891 257.2 Z" fill="#fff" stroke="#111" stroke-width="1.25"/>
<path d="M899.6 254.4 L903 255.4 M905.8 255.6 L910.4 256.4" stroke="#111" stroke-width="1.5" stroke-linecap="round"/>
<ellipse cx="901.8" cy="260.3" rx="1.25" ry="2.3" fill="#111"/><ellipse cx="906" cy="260.6" rx="1.45" ry="2.6" fill="#111"/>
<ellipse cx="903.8" cy="266.6" rx="4.3" ry="2.3" fill="#fff" stroke="#111" stroke-width="1.1"/>
<path d="M901.5 266 C903 267.6 905.5 267.6 907 266" stroke="#111" stroke-width="0.9" fill="none"/>
<ellipse cx="908" cy="277" rx="2.9" ry="3.2" fill="#fff" stroke="#111" stroke-width="1.2" transform="rotate(20 908 277)"/>
<text x="914" y="266" font-size="7.6" font-weight="bold" fill="#1b8c9c" stroke="#1b8c9c" stroke-width="0.45" transform="rotate(-18 914 266)" textLength="33.5" lengthAdjust="spacingAndGlyphs">随心由我</text>
</g><g transform="translate(0,0)">
<path d="M883.5 394.6 L887.5 376.4 L892.6 387.5 L898.8 372.9 L901.7 400.5" stroke="#ef8a2b" stroke-width="2.6" fill="none" stroke-linejoin="round" stroke-linecap="round"/>
<ellipse cx="901.8" cy="401" rx="1.7" ry="1.5" fill="#ef8a2b"/>
<path d="M899 384.8 L903.5 384.6" stroke="#ef8a2b" stroke-width="1.8"/>
<text x="903.3" y="389.8" font-size="10.8" font-weight="bold" font-style="italic" fill="#ef8a2b" textLength="28.3" lengthAdjust="spacingAndGlyphs">ZONE</text>
<path d="M908.7 379.5 C913 376 920 374.3 926 374.3 C933 374.3 939 376 938.6 380.6 C938 386 933 391 929 394.1" stroke="#ef8a2b" stroke-width="1.3" fill="none"/>
<path d="M893.3 394.1 C889 396 888 400 889.8 403.3 C891.5 406 896 406.8 901 407 C903.5 407.1 905.5 407 907.5 406.8" stroke="#ef8a2b" stroke-width="2.5" fill="none" stroke-linecap="round"/>
<rect x="907.6" y="393.6" width="38" height="11.4" rx="1" fill="#efe41c"/>
<text x="907.8" y="404.3" font-size="11" fill="#f3ea1a" stroke="#111" stroke-width="0.5" textLength="37.6" lengthAdjust="spacingAndGlyphs">动感地带</text>
<path d="M907.4 393.8 V405.6 H945.8" stroke="#111" stroke-width="1.4" fill="none"/>
<path d="M908.7 410 h2.5 m2.7 0 h2.5 m3 0 h2.5 m2.7 0 h2.5 m4.8 0 h2.5 m3.2 0 h2.5 m3 0 h2.5" stroke="#151515" stroke-width="2.3"/>
</g><g transform="translate(0,413.2)">
<path d="M891.8 130.9 C885.6 127 885.2 116 892.8 110.9 C896.5 108.4 901 107.2 905.2 107.1 C899 108.9 893.6 112.6 891.1 118 C889.5 122 890.3 127 893.6 130.5 Z" fill="#163f7b"/>
<ellipse cx="901.8" cy="119.5" rx="11.6" ry="8.5" transform="rotate(-47 901.8 119.5)" fill="#163f7b"/>
<path d="M896.6 121.9 L906.3 121 L901.2 130.2" stroke="#fff" stroke-width="1.7" fill="none" stroke-linejoin="miter"/>
<path d="M904 118.6 L909.3 117.6 L907.2 122.4 Z" fill="#fff"/>
<text x="914.8" y="120.4" font-size="12.4" font-weight="bold" fill="#163f7b" stroke="#163f7b" stroke-width="0.35" textLength="37" lengthAdjust="spacingAndGlyphs">全球通</text>
<text x="915.2" y="130.3" font-size="10.8" font-weight="bold" fill="#163f7b" stroke="#163f7b" stroke-width="0.35" font-family="Liberation Serif, serif" textLength="36.6" lengthAdjust="spacingAndGlyphs">GoTone</text>
<circle cx="955.8" cy="108.8" r="1.9" fill="#163f7b"/><circle cx="955.8" cy="108.8" r="0.8" fill="#fff"/>
</g><g transform="translate(0,327.4)">
<rect x="894.8" y="270.2" width="38.2" height="23.8" rx="3" fill="#f5e400"/>
<rect x="896.8" y="277.3" width="32.5" height="13.3" rx="1.5" fill="#1b9490"/>
<text x="899.5" y="289.3" font-size="8.6" font-weight="bold" fill="#fff">神</text>
<text x="908.2" y="289.3" font-size="8" font-weight="bold" fill="#fff">州</text>
<text x="916.5" y="290" font-size="11.5" font-weight="bold" fill="#fff">行</text>
<path d="M896 270.5 C899 272 901 273.5 902.5 276 L906 275 C904.5 273 903 271.5 902 270.5 Z" fill="#fff" stroke="#111" stroke-width="1.2" stroke-linejoin="round"/>
<path d="M889.8 265.2 C887.3 263 883 263.3 882.4 266.3 C882 269.4 886 271.2 889.6 269.6 C891.5 269.8 893.5 270.6 896.5 271.4 L897.5 267 C895 266.8 892.2 266.2 889.8 265.2 Z" fill="#fff" stroke="#111" stroke-width="1.25" stroke-linejoin="round"/>
<path d="M896.2 258.8 C898.5 256 905 255.3 908.8 258.2 C911.2 260.6 910.8 265.8 909.2 268.6 C907 271.4 901.8 272.2 898.8 270.6 C896.2 269.4 894.4 266 894.5 263 C894.6 261.4 895.2 259.9 896.2 258.8 Z" fill="#fff" stroke="#111" stroke-width="1.25"/>
<path d="M891 257.2 C889.4 254.6 892.4 252.8 894.1 254.4 C895.6 252.8 898.4 253.8 897.3 256.4 C897.9 258.6 895.6 260.2 894 259.1 C892.4 260.2 890.4 259.2 891 257.2 Z" fill="#fff" stroke="#111" stroke-width="1.25"/>
<path d="M899.6 254.4 L903 255.4 M905.8 255.6 L910.4 256.4" stroke="#111" stroke-width="1.5" stroke-linecap="round"/>
<ellipse cx="901.8" cy="260.3" rx="1.25" ry="2.3" fill="#111"/><ellipse cx="906" cy="260.6" rx="1.45" ry="2.6" fill="#111"/>
<ellipse cx="903.8" cy="266.6" rx="4.3" ry="2.3" fill="#fff" stroke="#111" stroke-width="1.1"/>
<path d="M901.5 266 C903 267.6 905.5 267.6 907 266" stroke="#111" stroke-width="0.9" fill="none"/>
<ellipse cx="908" cy="277" rx="2.9" ry="3.2" fill="#fff" stroke="#111" stroke-width="1.2" transform="rotate(20 908 277)"/>
<text x="914" y="266" font-size="7.6" font-weight="bold" fill="#1b8c9c" stroke="#1b8c9c" stroke-width="0.45" transform="rotate(-18 914 266)" textLength="33.5" lengthAdjust="spacingAndGlyphs">随心由我</text>
</g><g transform="translate(0,272.5)">
<path d="M883.5 394.6 L887.5 376.4 L892.6 387.5 L898.8 372.9 L901.7 400.5" stroke="#ef8a2b" stroke-width="2.6" fill="none" stroke-linejoin="round" stroke-linecap="round"/>
<ellipse cx="901.8" cy="401" rx="1.7" ry="1.5" fill="#ef8a2b"/>
<path d="M899 384.8 L903.5 384.6" stroke="#ef8a2b" stroke-width="1.8"/>
<text x="903.3" y="389.8" font-size="10.8" font-weight="bold" font-style="italic" fill="#ef8a2b" textLength="28.3" lengthAdjust="spacingAndGlyphs">ZONE</text>
<path d="M908.7 379.5 C913 376 920 374.3 926 374.3 C933 374.3 939 376 938.6 380.6 C938 386 933 391 929 394.1" stroke="#ef8a2b" stroke-width="1.3" fill="none"/>
<path d="M893.3 394.1 C889 396 888 400 889.8 403.3 C891.5 406 896 406.8 901 407 C903.5 407.1 905.5 407 907.5 406.8" stroke="#ef8a2b" stroke-width="2.5" fill="none" stroke-linecap="round"/>
<rect x="907.6" y="393.6" width="38" height="11.4" rx="1" fill="#efe41c"/>
<text x="907.8" y="404.3" font-size="11" fill="#f3ea1a" stroke="#111" stroke-width="0.5" textLength="37.6" lengthAdjust="spacingAndGlyphs">动感地带</text>
<path d="M907.4 393.8 V405.6 H945.8" stroke="#111" stroke-width="1.4" fill="none"/>
<path d="M908.7 410 h2.5 m2.7 0 h2.5 m3 0 h2.5 m2.7 0 h2.5 m4.8 0 h2.5 m3.2 0 h2.5 m3 0 h2.5" stroke="#151515" stroke-width="2.3"/>
</g>
</svg>
</body></html>
